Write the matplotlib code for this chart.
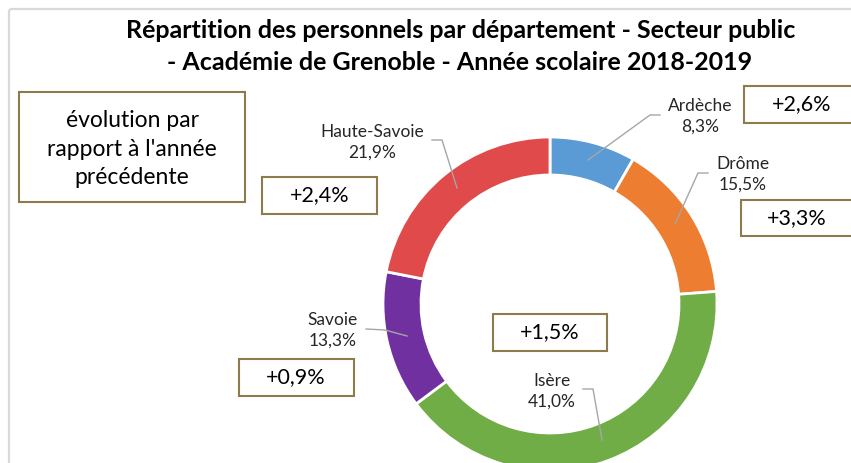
"""
Donut chart: staff distribution by department, Académie de Grenoble 2018-2019
"""

import matplotlib.pyplot as plt
from matplotlib.patches import Rectangle, FancyBboxPatch

plt.rcParams['font.family'] = ['Lato', 'DejaVu Sans']

# Data
departements = ['Ardèche', 'Drôme', 'Isère', 'Savoie', 'Haute-Savoie']
parts = [8.3, 15.5, 41.0, 13.3, 21.9]
evolutions = ['+2,6%', '+3,3%', '+1,5%', '+0,9%', '+2,4%']
couleurs = ['#5B9BD5', '#ED7D31', '#70AD47', '#7030A0', '#E04A4B']

W, H = 851, 463


def y(py):
    # pixel row (from top) -> data y
    return H - py


fig = plt.figure(figsize=(W / 100, H / 100), dpi=100)
ax = fig.add_axes([0, 0, 1, 1])
ax.set_xlim(0, W)
ax.set_ylim(0, H)
ax.set_aspect('equal')
ax.axis('off')

# Chart area frame (only top-left corner visible)
ax.add_patch(FancyBboxPatch((9, -40), 900, y(9) + 40,
                            boxstyle='round,pad=0,rounding_size=3',
                            fill=False, edgecolor='#D9D9D9', linewidth=1.6))

# Title
ax.text(461, y(31), 'Répartition des personnels par département - Secteur public',
        ha='center', va='center', fontsize=18, fontweight='bold', color='#000000')
ax.text(460, y(62), '- Académie de Grenoble - Année scolaire 2018-2019',
        ha='center', va='center', fontsize=18, fontweight='bold', color='#000000')

# Donut
ax.pie(parts, colors=couleurs, startangle=90, counterclock=False,
       radius=167, center=(550, y(304)), frame=False,
       wedgeprops=dict(width=38, edgecolor='white', linewidth=2))
ax.set_xlim(0, W)
ax.set_ylim(0, H)

# Data labels with leader lines
label_pos = [(700, 104), (743, 162), (552, 379), (333, 318), (372, 130)]
leaders = [
    [(588, 160), (650, 115), (660, 115)],
    [(675, 224), (698, 173), (708, 173)],
    [(583, 389), (593, 389), (602, 440)],
    [(366, 329), (385, 330), (407, 336)],
    [(457, 188), (442, 140), (432, 140)],
]
for name, val, (lx, ly), pts in zip(departements, parts, label_pos, leaders):
    xs = [p[0] for p in pts]
    ys = [y(p[1]) for p in pts]
    ax.plot(xs, ys, color='#A6A6A6', linewidth=1)
    txt = '{}\n{}%'.format(name, str(val).replace('.', ','))
    ax.text(lx, y(ly + 12), txt, ha='center', va='center', fontsize=12.5,
            linespacing=1.35, color='#262626')

# Evolution boxes
box_color = '#8C7B4B'
boxes = [(744, 86, 130, 37), (741, 200, 130, 36), (493, 314, 114, 37),
         (239, 359, 115, 37), (262, 177, 115, 37)]
text_x = [802, 797, 550, 296, 320]
for ev, (bx, by, bw, bh), tx in zip(evolutions, boxes, text_x):
    ax.add_patch(Rectangle((bx, y(by + bh)), bw, bh, facecolor='white',
                           edgecolor=box_color, linewidth=1.5))
    ax.text(tx, y(by + bh / 2), ev, ha='center', va='center', fontsize=15.5,
            color='#000000')

ax.add_patch(Rectangle((19, y(202)), 226, 110, facecolor='white',
                       edgecolor=box_color, linewidth=1.5))
ax.text(132, y(149), "évolution par\nrapport à l'année\nprécédente",
        ha='center', va='center', fontsize=16.5, linespacing=1.45, color='#000000')

fig.savefig('out.png', dpi=100)
